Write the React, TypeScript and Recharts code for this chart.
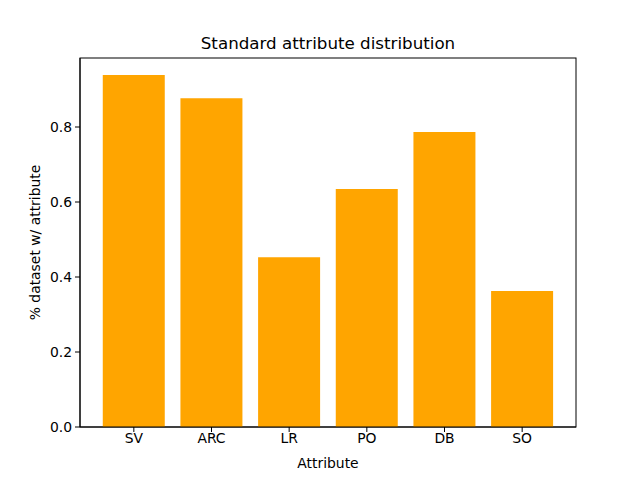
import { BarChart, Bar, XAxis, YAxis } from "recharts";

const attributes = ["SV", "ARC", "LR", "PO", "DB", "SO"];
const shares = [0.939, 0.877, 0.453, 0.635, 0.787, 0.363];
const yTicks = [0, 0.2, 0.4, 0.6, 0.8];

const data = attributes.map((name, i) => ({ name, value: shares[i] }));

const font = "DejaVu Sans";

export default function App() {
  return (
    <div style={{ position: "absolute", left: 0, top: 0, width: 640, height: 480, background: "#fff" }}>
      <BarChart
        width={640}
        height={480}
        data={data}
        margin={{ top: 58, right: 64, bottom: 23, left: 20 }}
        barCategoryGap="10%"
      >
        <text
          x={328}
          y={49}
          textAnchor="middle"
          fontFamily={font}
          fontSize={16.7}
          fill="#000"
        >
          Standard attribute distribution
        </text>
        <XAxis
          dataKey="name"
          padding={{ left: 15, right: 15 }}
          height={30}
          stroke="#000"
          tickSize={5}
          tick={{ fill: "#000", fontFamily: font, fontSize: 13.9 }}
          tickMargin={1}
          label={{ value: "Attribute", position: "insideBottom", offset: -11, fill: "#000", fontFamily: font, fontSize: 13.9 }}
        />
        <YAxis
          domain={[0, 0.984]}
          ticks={yTicks}
          tickFormatter={(v: number) => v.toFixed(1)}
          width={60}
          stroke="#000"
          tickSize={5}
          tickMargin={3}
          tick={{ fill: "#000", fontFamily: font, fontSize: 13.9 }}
          label={{ value: "% dataset w/ attribute", angle: -90, position: "insideLeft", offset: 15, fill: "#000", fontFamily: font, fontSize: 13.9, style: { textAnchor: "middle" } }}
        />
        <Bar dataKey="value" fill="#ffa500" isAnimationActive={false} />
        {/* axes frame */}
        <rect x={80} y={58} width={496} height={369} fill="none" stroke="#000" strokeWidth={1} />
      </BarChart>
    </div>
  );
}
